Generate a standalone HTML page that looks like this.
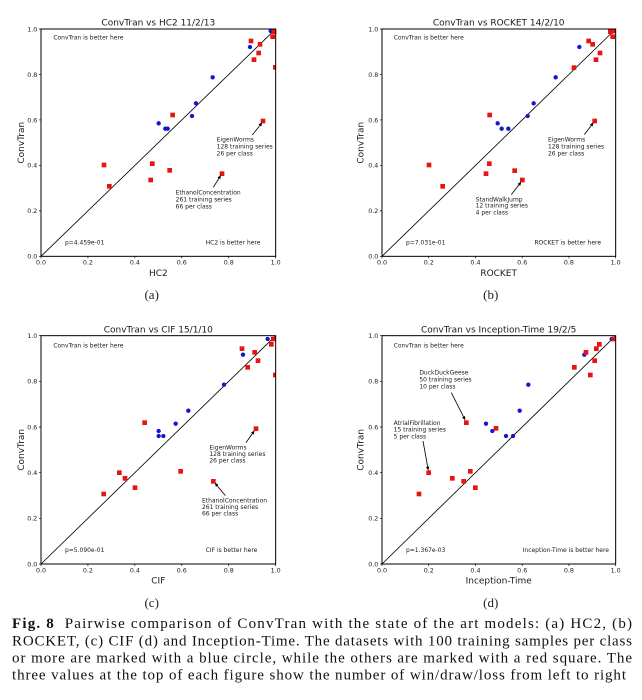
<!DOCTYPE html>
<html>
<head>
<meta charset="utf-8">
<style>
  html, body { margin: 0; padding: 0; background: #fff; }
  body { width: 642px; height: 700px; overflow: hidden; }
  svg { display: block; }
  .p text { font-family: "DejaVu Sans", "Liberation Sans", sans-serif; fill: #1a1a1a; }
  .tk { font-size: 19px; }
  .an { font-size: 18px; }
  .ti { font-size: 27px; }
  .al { font-size: 27px; }
  .cap { font-family: "Liberation Serif", serif; font-size: 15px; fill: #111; }
  .sl { font-family: "Liberation Serif", serif; font-size: 13px; fill: #222; }
</style>
</head>
<body>
<svg width="642" height="700" viewBox="0 0 642 700" xmlns="http://www.w3.org/2000/svg">
<rect x="0" y="0" width="642" height="700" fill="#fff"/>

<!-- ================= (a) ================= -->
<g class="p" transform="translate(0,0) scale(0.333333)">
  <line x1="123" y1="769" x2="827" y2="87" stroke="#000" stroke-width="2.5"/>
  <g fill="#1414d2">
    <circle cx="812" cy="93" r="6.5"/><circle cx="750" cy="141" r="6.5"/><circle cx="638" cy="232" r="6.5"/>
    <circle cx="588" cy="310" r="6.5"/><circle cx="576" cy="348" r="6.5"/><circle cx="476" cy="370" r="6.5"/>
    <circle cx="496" cy="386" r="6.5"/><circle cx="503" cy="386" r="6.5"/>
  </g>
  <g fill="#e81414">
    <rect x="746" y="116" width="14" height="14"/><rect x="773" y="126" width="14" height="14"/>
    <rect x="769" y="152" width="14" height="14"/><rect x="755" y="172" width="14" height="14"/>
    <rect x="811" y="103" width="14" height="14"/><rect x="815" y="88" width="14" height="14"/>
    <rect x="819" y="195" width="8" height="14"/><rect x="782" y="356" width="14" height="14"/>
    <rect x="511" y="338" width="14" height="14"/><rect x="305" y="488" width="14" height="14"/>
    <rect x="321" y="552" width="14" height="14"/><rect x="450" y="484" width="14" height="14"/>
    <rect x="445" y="533" width="14" height="14"/><rect x="502" y="504" width="14" height="14"/>
    <rect x="659" y="514" width="14" height="14"/>
  </g>
  <rect x="123" y="87" width="704" height="682" fill="none" stroke="#000" stroke-width="3"/>
  <path d="M123 769v6M263.8 769v6M404.6 769v6M545.4 769v6M686.2 769v6M827 769v6M123 769h-6M123 632.6h-6M123 496.2h-6M123 359.8h-6M123 223.4h-6M123 87h-6" stroke="#000" stroke-width="2"/>
  <g class="tk" text-anchor="middle">
    <text x="123" y="794">0.0</text><text x="263.8" y="794">0.2</text><text x="404.6" y="794">0.4</text>
    <text x="545.4" y="794">0.6</text><text x="686.2" y="794">0.8</text><text x="827" y="794">1.0</text>
  </g>
  <g class="tk" text-anchor="end">
    <text x="112" y="776">0.0</text><text x="112" y="639.6">0.2</text><text x="112" y="503.2">0.4</text>
    <text x="112" y="366.8">0.6</text><text x="112" y="230.4">0.8</text><text x="112" y="94">1.0</text>
  </g>
  <text class="ti" x="475" y="76" text-anchor="middle">ConvTran vs HC2 11/2/13</text>
  <text class="al" x="475" y="828" text-anchor="middle">HC2</text>
  <text class="al" transform="translate(72,428) rotate(-90)" text-anchor="middle">ConvTran</text>
  <g class="an">
    <text x="160" y="119">ConvTran is better here</text>
    <text x="195" y="734">p=4.459e-01</text>
    <text x="617" y="734">HC2 is better here</text>
    <text x="650" y="424">EigenWorms</text><text x="650" y="445">128 training series</text><text x="650" y="466">26 per class</text>
    <text x="527" y="584">EthanolConcentration</text><text x="527" y="605">261 training series</text><text x="527" y="626">66 per class</text>
  </g>
  <line x1="757" y1="405" x2="779.6" y2="376.4" stroke="#000" stroke-width="2.5"/>
  <polygon points="787,367 783.5,379.5 775.6,373.3" fill="#000"/>
  <line x1="640" y1="562" x2="656.7" y2="535.2" stroke="#000" stroke-width="2.5"/>
  <polygon points="663,525 660.9,537.8 652.4,532.5" fill="#000"/>
</g>
<text class="sl" x="151.7" y="299" text-anchor="middle">(a)</text>

<!-- ================= (b) ================= -->
<g class="p" transform="translate(320,0) scale(0.333333)">
  <line x1="186" y1="769" x2="887" y2="87" stroke="#000" stroke-width="2.5"/>
  <g fill="#1414d2">
    <circle cx="878" cy="93" r="6.5"/><circle cx="778" cy="141" r="6.5"/><circle cx="707" cy="232" r="6.5"/>
    <circle cx="641" cy="310" r="6.5"/><circle cx="623" cy="348" r="6.5"/><circle cx="533" cy="370" r="6.5"/>
    <circle cx="545" cy="386" r="6.5"/><circle cx="565" cy="386" r="6.5"/>
  </g>
  <g fill="#e81414">
    <rect x="799" y="116" width="14" height="14"/><rect x="811" y="126" width="14" height="14"/>
    <rect x="833" y="152" width="14" height="14"/><rect x="821" y="172" width="14" height="14"/>
    <rect x="755" y="196" width="14" height="14"/><rect x="864" y="88" width="14" height="14"/>
    <rect x="871" y="103" width="14" height="14"/><rect x="875" y="87" width="12" height="13"/>
    <rect x="817" y="356" width="14" height="14"/><rect x="502" y="338" width="14" height="14"/>
    <rect x="320" y="488" width="14" height="14"/><rect x="361" y="552" width="14" height="14"/>
    <rect x="501" y="484" width="14" height="14"/><rect x="491" y="514" width="14" height="14"/>
    <rect x="577" y="505" width="14" height="14"/><rect x="600" y="533" width="14" height="14"/>
  </g>
  <rect x="186" y="87" width="701" height="682" fill="none" stroke="#000" stroke-width="3"/>
  <path d="M186 769v6M326.2 769v6M466.4 769v6M606.6 769v6M746.8 769v6M887 769v6M186 769h-6M186 632.6h-6M186 496.2h-6M186 359.8h-6M186 223.4h-6M186 87h-6" stroke="#000" stroke-width="2"/>
  <g class="tk" text-anchor="middle">
    <text x="186" y="794">0.0</text><text x="326.2" y="794">0.2</text><text x="466.4" y="794">0.4</text>
    <text x="606.6" y="794">0.6</text><text x="746.8" y="794">0.8</text><text x="887" y="794">1.0</text>
  </g>
  <g class="tk" text-anchor="end">
    <text x="175" y="776">0.0</text><text x="175" y="639.6">0.2</text><text x="175" y="503.2">0.4</text>
    <text x="175" y="366.8">0.6</text><text x="175" y="230.4">0.8</text><text x="175" y="94">1.0</text>
  </g>
  <text class="ti" x="536" y="76" text-anchor="middle">ConvTran vs ROCKET 14/2/10</text>
  <text class="al" x="536" y="828" text-anchor="middle">ROCKET</text>
  <text class="al" transform="translate(130,428) rotate(-90)" text-anchor="middle">ConvTran</text>
  <g class="an">
    <text x="221" y="119">ConvTran is better here</text>
    <text x="258" y="734">p=7.031e-01</text>
    <text x="643" y="734">ROCKET is better here</text>
    <text x="684" y="424">EigenWorms</text><text x="684" y="445">128 training series</text><text x="684" y="466">26 per class</text>
    <text x="467" y="604">StandWalkJump</text><text x="467" y="623">12 training series</text><text x="467" y="643">4 per class</text>
  </g>
  <line x1="793" y1="404" x2="813.8" y2="376.6" stroke="#000" stroke-width="2.5"/>
  <polygon points="821,367 817.7,379.6 809.8,373.5" fill="#000"/>
  <line x1="574" y1="584" x2="596.7" y2="554.5" stroke="#000" stroke-width="2.5"/>
  <polygon points="604,545 600.6,557.6 592.7,551.5" fill="#000"/>
</g>
<text class="sl" x="490.7" y="299" text-anchor="middle">(b)</text>

<!-- ================= (c) ================= -->
<g class="p" transform="translate(0,310) scale(0.333333)">
  <line x1="123" y1="762" x2="827" y2="77" stroke="#000" stroke-width="2.5"/>
  <g fill="#1414d2">
    <circle cx="803" cy="87" r="6.5"/><circle cx="729" cy="134" r="6.5"/><circle cx="672" cy="224" r="6.5"/>
    <circle cx="565" cy="302" r="6.5"/><circle cx="527" cy="341" r="6.5"/><circle cx="476" cy="363" r="6.5"/>
    <circle cx="476" cy="378" r="6.5"/><circle cx="490" cy="378" r="6.5"/>
  </g>
  <g fill="#e81414">
    <rect x="719" y="109" width="14" height="14"/><rect x="757" y="120" width="14" height="14"/>
    <rect x="767" y="145" width="14" height="14"/><rect x="736" y="165" width="14" height="14"/>
    <rect x="807" y="96" width="14" height="14"/><rect x="813" y="80" width="14" height="14"/>
    <rect x="819" y="188" width="8" height="14"/><rect x="761" y="349" width="14" height="14"/>
    <rect x="427" y="331" width="14" height="14"/><rect x="535" y="477" width="14" height="14"/>
    <rect x="351" y="481" width="14" height="14"/><rect x="368" y="498" width="14" height="14"/>
    <rect x="398" y="526" width="14" height="14"/><rect x="304" y="545" width="14" height="14"/>
    <rect x="633" y="507" width="14" height="14"/>
  </g>
  <rect x="123" y="77" width="704" height="685" fill="none" stroke="#000" stroke-width="3"/>
  <path d="M123 762v6M263.8 762v6M404.6 762v6M545.4 762v6M686.2 762v6M827 762v6M123 762h-6M123 625h-6M123 488h-6M123 351h-6M123 214h-6M123 77h-6" stroke="#000" stroke-width="2"/>
  <g class="tk" text-anchor="middle">
    <text x="123" y="787">0.0</text><text x="263.8" y="787">0.2</text><text x="404.6" y="787">0.4</text>
    <text x="545.4" y="787">0.6</text><text x="686.2" y="787">0.8</text><text x="827" y="787">1.0</text>
  </g>
  <g class="tk" text-anchor="end">
    <text x="112" y="769">0.0</text><text x="112" y="632">0.2</text><text x="112" y="495">0.4</text>
    <text x="112" y="358">0.6</text><text x="112" y="221">0.8</text><text x="112" y="84">1.0</text>
  </g>
  <text class="ti" x="475" y="68" text-anchor="middle">ConvTran vs CIF 15/1/10</text>
  <text class="al" x="475" y="820" text-anchor="middle">CIF</text>
  <text class="al" transform="translate(72,419.5) rotate(-90)" text-anchor="middle">ConvTran</text>
  <g class="an">
    <text x="160" y="112">ConvTran is better here</text>
    <text x="195" y="726">p=5.090e-01</text>
    <text x="617" y="726">CIF is better here</text>
    <text x="628" y="418">EigenWorms</text><text x="628" y="438">128 training series</text><text x="628" y="458">26 per class</text>
    <text x="606" y="577">EthanolConcentration</text><text x="606" y="597">261 training series</text><text x="606" y="617">66 per class</text>
  </g>
  <line x1="738" y1="398" x2="757.1" y2="370.8" stroke="#000" stroke-width="2.5"/>
  <polygon points="764,361 761.2,373.7 753,367.9" fill="#000"/>
  <line x1="676" y1="557" x2="651.6" y2="527.3" stroke="#000" stroke-width="2.5"/>
  <polygon points="644,518 655.5,524.1 647.8,530.5" fill="#000"/>
</g>
<text class="sl" x="151.7" y="607" text-anchor="middle">(c)</text>

<!-- ================= (d) ================= -->
<g class="p" transform="translate(320,310) scale(0.333333)">
  <line x1="186" y1="762" x2="887" y2="77" stroke="#000" stroke-width="2.5"/>
  <g fill="#1414d2">
    <circle cx="875" cy="87" r="6.5"/><circle cx="793" cy="134" r="6.5"/><circle cx="625" cy="224" r="6.5"/>
    <circle cx="599" cy="302" r="6.5"/><circle cx="498" cy="341" r="6.5"/><circle cx="517" cy="363" r="6.5"/>
    <circle cx="558" cy="378" r="6.5"/><circle cx="579" cy="378" r="6.5"/>
  </g>
  <g fill="#e81414">
    <rect x="791" y="120" width="14" height="14"/><rect x="831" y="96" width="14" height="14"/>
    <rect x="822" y="109" width="14" height="14"/><rect x="817" y="145" width="14" height="14"/>
    <rect x="756" y="165" width="14" height="14"/><rect x="804" y="188" width="14" height="14"/>
    <rect x="874" y="80" width="13" height="14"/><rect x="432" y="331" width="14" height="14"/>
    <rect x="521" y="348" width="14" height="14"/><rect x="319" y="481" width="14" height="14"/>
    <rect x="390" y="498" width="14" height="14"/><rect x="444" y="477" width="14" height="14"/>
    <rect x="424" y="507" width="14" height="14"/><rect x="459" y="526" width="14" height="14"/>
    <rect x="290" y="545" width="14" height="14"/>
  </g>
  <rect x="186" y="77" width="701" height="685" fill="none" stroke="#000" stroke-width="3"/>
  <path d="M186 762v6M326.2 762v6M466.4 762v6M606.6 762v6M746.8 762v6M887 762v6M186 762h-6M186 625h-6M186 488h-6M186 351h-6M186 214h-6M186 77h-6" stroke="#000" stroke-width="2"/>
  <g class="tk" text-anchor="middle">
    <text x="186" y="787">0.0</text><text x="326.2" y="787">0.2</text><text x="466.4" y="787">0.4</text>
    <text x="606.6" y="787">0.6</text><text x="746.8" y="787">0.8</text><text x="887" y="787">1.0</text>
  </g>
  <g class="tk" text-anchor="end">
    <text x="175" y="769">0.0</text><text x="175" y="632">0.2</text><text x="175" y="495">0.4</text>
    <text x="175" y="358">0.6</text><text x="175" y="221">0.8</text><text x="175" y="84">1.0</text>
  </g>
  <text class="ti" x="536" y="68" text-anchor="middle">ConvTran vs Inception-Time 19/2/5</text>
  <text class="al" x="536" y="820" text-anchor="middle">Inception-Time</text>
  <text class="al" transform="translate(130,419.5) rotate(-90)" text-anchor="middle">ConvTran</text>
  <g class="an">
    <text x="221" y="112">ConvTran is better here</text>
    <text x="258" y="726">p=1.367e-03</text>
    <text x="608" y="726">Inception-Time is better here</text>
    <text x="298" y="194">DuckDuckGeese</text><text x="298" y="215">50 training series</text><text x="298" y="235">10 per class</text>
    <text x="221" y="345">AtrialFibrillation</text><text x="221" y="365">15 training series</text><text x="221" y="386">5 per class</text>
  </g>
  <line x1="394" y1="248" x2="430.6" y2="320.3" stroke="#000" stroke-width="2.5"/>
  <polygon points="436,331 435,318 426.1,322.6" fill="#000"/>
  <line x1="309" y1="393" x2="322.9" y2="470.2" stroke="#000" stroke-width="2.5"/>
  <polygon points="325,482 327.8,469.3 318,471.1" fill="#000"/>
</g>
<text class="sl" x="490.7" y="607" text-anchor="middle">(d)</text>

<!-- ================= caption ================= -->
<text class="cap" x="12" y="628" textLength="620" lengthAdjust="spacing"><tspan font-weight="bold">Fig. 8</tspan>&#160;&#160;Pairwise comparison of ConvTran with the state of the art models: (a) HC2, (b)</text>
<text class="cap" x="12" y="645.3" textLength="620" lengthAdjust="spacing">ROCKET, (c) CIF (d) and Inception-Time. The datasets with 100 training samples per class</text>
<text class="cap" x="12" y="662.5" textLength="620" lengthAdjust="spacing">or more are marked with a blue circle, while the others are marked with a red square. The</text>
<text class="cap" x="12" y="679.7" textLength="614" lengthAdjust="spacing">three values at the top of each figure show the number of win/draw/loss from left to right</text>
</svg>
</body>
</html>
